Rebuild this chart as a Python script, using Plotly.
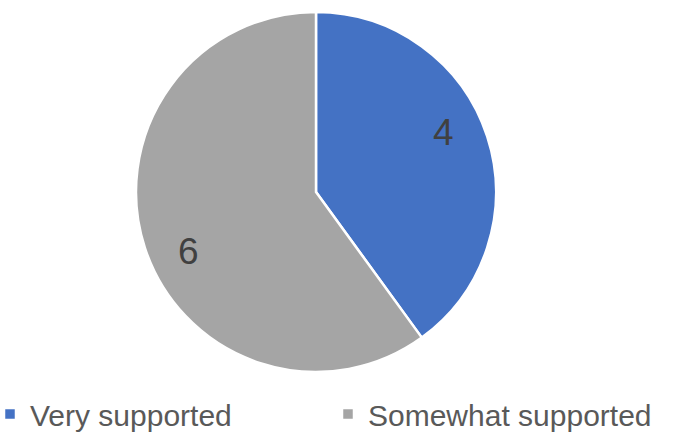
import math
import plotly.graph_objects as go

labels = ["Very supported", "Somewhat supported"]
values = [4, 6]
colors = ["#4472C4", "#A5A5A5"]

W, H = 673, 432
cx_px, cy_px, R = 316, 192, 180

fig = go.Figure(go.Pie(
    labels=labels,
    values=values,
    marker=dict(colors=colors, line=dict(color="white", width=2.5)),
    sort=False,
    direction="clockwise",
    rotation=0,
    textinfo="none",
    hoverinfo="label+value",
    domain=dict(x=[(cx_px - R) / W, (cx_px + R) / W],
                y=[1 - (cy_px + R) / H, 1 - (cy_px - R) / H]),
))

# data labels placed along each slice (Excel best-fit style)
total = sum(values)
start = 0.0
annotations = []
for v in values:
    mid = start + v / total * 360 / 2
    ang = math.radians(mid - 7)
    r = 0.78 * R
    annotations.append(dict(
        x=(cx_px + r * math.sin(ang)) / W,
        y=1 - (cy_px - r * math.cos(ang)) / H,
        xref="paper", yref="paper", text=str(v), showarrow=False,
        xanchor="center", yanchor="middle",
        font=dict(family="Liberation Sans, Arial", size=37, color="#404040"),
    ))
    start += v / total * 360

fig.update_layout(
    width=W, height=H,
    margin=dict(l=0, r=0, t=0, b=0, autoexpand=False),
    paper_bgcolor="white",
    font=dict(family="Liberation Sans, Arial"),
    annotations=annotations,
    legend=dict(
        orientation="h", x=5 / W, xanchor="left", y=-8 / H, yanchor="bottom",
        font=dict(size=30, color="#595959"),
        entrywidth=308, entrywidthmode="pixels",
        indentation=-15,
    ),
)

fig.write_html("out.html")
